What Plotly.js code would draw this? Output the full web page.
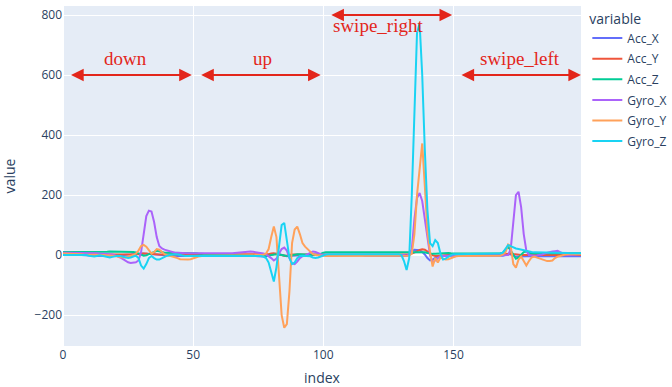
<!DOCTYPE html>
<html>
<head>
<meta charset="utf-8">
<script src="https://cdn.plot.ly/plotly-3.0.1.min.js"></script>
<style>html,body{margin:0;padding:0;background:#fff;}#chart{width:672px;height:387px;}</style>
</head>
<body>
<div id="chart"></div>
<script>
// ---- data (index 0..199) ----
const seriesNames = ["Acc_X", "Acc_Y", "Acc_Z", "Gyro_X", "Gyro_Y", "Gyro_Z"];

const accX = [
  3,3,2,2,2,1,1,0,0,-1,
  -1,-2,-2,-3,-3,-2,-2,-3,-3,-2,
  -2,-1,-1,0,0,1,2,3,4,5,
  6,5,4,3,2,1,0,0,-1,-1,
  -1,-2,-2,-2,-3,-3,-3,-2,-2,-2,
  -2,-2,-3,-3,-3,-3,-2,-2,-2,-2,
  -2,-2,-2,-1,-1,-1,-2,-2,-2,-2,
  -2,-3,-3,-3,-3,-4,-5,-5,-4,-2,
  0,3,5,3,0,-3,-4,-3,-2,-1,
  -1,0,0,0,1,1,1,0,0,0,
  0,1,1,1,1,0,0,0,-1,-1,
  -1,-1,-1,-1,-1,-1,-2,-2,-2,-2,
  -2,-2,-2,-2,-2,-2,-2,-2,-3,-3,
  -3,-4,-3,2,12,18,18,16,10,2,
  -10,-18,-15,-8,-4,-3,-2,-2,-2,-2,
  -2,-2,-3,-3,-3,-3,-3,-3,-3,-3,
  -3,-3,-3,-3,-3,-3,-3,-3,-3,-2,
  0,3,2,-2,-5,-5,-4,-4,-4,-4,
  -4,-4,-4,-4,-4,-4,-4,-4,-4,-4,
  -4,-4,-4,-4,-4,-4,-4,-4,-4,-4
];
const accY = [
  5,5,5,5,4,4,4,4,3,3,
  3,3,3,2,2,2,2,2,2,2,
  2,2,2,1,1,1,1,1,2,3,
  5,6,5,4,3,2,2,2,2,2,
  2,2,2,2,2,3,3,3,3,3,
  3,3,3,2,2,2,2,2,2,2,
  2,2,2,2,2,2,2,2,2,2,
  2,2,2,2,2,2,1,1,2,3,
  5,6,4,2,0,-2,-1,1,2,2,
  2,2,2,2,2,2,2,2,2,2,
  2,2,2,2,2,2,2,2,2,2,
  2,2,2,2,2,2,2,2,2,2,
  2,2,2,2,2,2,2,2,2,2,
  2,2,2,3,5,8,12,17,19,18,
  12,5,0,-3,-2,-1,0,0,0,0,
  0,0,0,0,0,0,0,0,0,0,
  0,0,0,0,0,0,0,0,0,1,
  3,5,6,4,2,1,0,0,0,0,
  0,0,0,0,0,0,0,0,0,0,
  0,0,0,0,0,0,0,0,0,0
];
const accZ = [
  10,10,10,10,10,10,9,9,9,9,
  9,9,9,10,10,11,11,11,12,12,
  12,12,12,12,12,11,11,10,9,6,
  2,-2,-1,3,8,12,14,13,10,8,
  8,8,8,8,8,8,8,8,8,8,
  7,6,5,4,3,2,2,1,1,1,
  0,0,0,0,0,0,0,0,0,0,
  0,0,0,0,0,-1,-2,-3,-3,-2,
  0,2,3,2,0,-2,-3,-2,0,2,
  3,3,2,1,1,1,1,1,2,4,
  8,9,9,9,9,9,9,9,9,9,
  9,9,9,9,9,9,9,9,9,9,
  9,9,9,9,9,9,9,9,9,9,
  9,9,9,8,8,8,9,10,10,9,
  7,5,4,4,5,6,7,7,7,6,
  5,5,5,5,5,5,5,5,5,5,
  5,5,5,5,5,5,5,5,6,8,
  18,28,15,0,-12,-8,2,10,12,8,
  5,5,6,6,6,6,6,6,6,6,
  6,6,6,6,6,6,6,6,6,6
];
const gyroX = [
  8,8,8,7,7,7,6,6,6,6,
  6,6,6,6,5,5,4,4,3,2,
  0,-4,-8,-14,-20,-24,-26,-26,-24,-18,
  10,70,130,148,145,110,60,30,22,18,
  15,12,10,8,8,7,7,6,6,6,
  6,6,5,5,5,5,5,5,5,5,
  4,4,4,4,5,6,7,8,9,10,
  11,12,12,11,10,9,7,5,2,-3,
  -10,-18,-12,5,20,25,15,-10,-28,-30,
  -22,-10,-4,-2,2,8,12,10,6,3,
  2,2,2,2,2,2,2,2,2,2,
  1,1,1,1,1,1,1,1,0,0,
  0,0,0,0,0,0,0,0,0,0,
  0,0,-2,2,20,120,190,207,180,120,
  50,0,-25,-18,-8,-3,-3,-2,-2,-2,
  -2,-2,-2,-2,-2,-2,-2,-2,-2,-2,
  -2,-2,-2,-2,-2,-2,-2,-2,-2,-2,
  -2,0,20,110,200,211,160,70,15,0,
  -2,-2,-1,0,2,5,8,10,12,13,
  14,10,5,2,0,0,1,2,3,4
];
const gyroY = [
  5,5,4,4,4,3,3,3,2,2,
  2,1,1,0,0,0,0,-1,-1,-2,
  -3,-5,-7,-8,-8,-6,-3,0,5,15,
  30,34,28,15,5,10,20,18,10,3,
  0,-2,-4,-6,-10,-14,-15,-15,-15,-14,
  -12,-8,-5,-3,-2,-2,-2,-2,-2,-2,
  -2,-2,-2,-3,-3,-3,-3,-3,-3,-3,
  -3,-3,-2,-1,0,0,0,1,5,20,
  60,95,60,-60,-200,-242,-230,-120,40,85,
  95,70,40,28,20,10,3,0,0,0,
  -2,-3,-3,-3,-3,-3,-3,-3,-3,-3,
  -3,-3,-3,-3,-3,-3,-3,-3,-3,-3,
  -3,-3,-3,-3,-3,-3,-3,-3,-3,-3,
  -3,-3,-3,-2,5,70,200,300,372,230,
  80,10,-38,-10,-25,-8,-12,-15,-14,-10,
  -6,-4,-3,-3,-3,-3,-3,-3,-3,-3,
  -3,-3,-3,-3,-3,-3,-3,-3,-2,2,
  10,35,30,-30,-42,-15,-5,-20,-35,-20,
  -8,-5,-8,-12,-15,-18,-20,-20,-18,-10,
  -5,-3,0,2,3,3,2,2,3,3
];
const gyroZ = [
  0,0,0,0,1,1,1,0,0,0,
  -2,-4,-5,-3,-1,-2,-4,-6,-8,-6,
  -3,-2,-3,-5,-8,-10,-8,-5,-2,-10,
  -35,-45,-30,-10,-3,-10,-15,-15,-10,-5,
  -2,0,2,3,2,0,-2,-3,-3,-3,
  -3,-3,-4,-4,-4,-4,-4,-4,-4,-4,
  -4,-4,-4,-4,-4,-4,-4,-4,-4,-4,
  -4,-4,-4,-3,-2,-2,-3,-5,-10,-25,
  -60,-88,-40,40,100,107,50,-10,-30,-25,
  -10,-3,-2,-2,-2,-4,-8,-10,-8,-4,
  0,2,3,3,3,3,3,3,3,3,
  3,3,3,3,3,3,3,3,3,3,
  3,3,3,3,3,3,3,3,3,3,
  0,-20,-50,-10,200,500,740,772,600,350,
  150,40,30,50,40,5,-15,-12,-5,0,
  3,3,3,3,3,3,3,3,3,3,
  3,3,3,3,3,3,4,4,5,8,
  20,33,30,25,22,20,18,15,12,10,
  10,9,9,8,8,8,8,8,8,8,
  7,7,7,7,7,6,6,6,6,6
];
const seriesValues = [accX, accY, accZ, gyroX, gyroY, gyroZ];
const colors = ["#636efa", "#EF553B", "#00cc96", "#ab63fa", "#FFA15A", "#19d3f3"];

// gesture segments: label, arrow start/end index, arrow level, label position
const segLabels = ["down", "up", "swipe_right", "swipe_left"];
const segStart  = [2.5, 52.5, 102.5, 152.5];
const segEnd    = [49.5, 99, 149.5, 199];
const segArrowY = [600, 600, 800, 600];
const segTextX  = [24, 76.5, 121, 175.4];
const segTextY  = [655, 655, 765, 655];

const index = accX.map((_, i) => i);

const traces = seriesNames.map((name, k) => ({
  type: "scatter", mode: "lines", name: name,
  x: index, y: seriesValues[k],
  line: {color: colors[k], width: 2},
  legendgroup: name
}));

const red = "#e3261b";
const annotations = [];
segLabels.forEach((lab, k) => {
  annotations.push({
    x: segEnd[k], y: segArrowY[k], ax: segStart[k], ay: segArrowY[k],
    xref: "x", yref: "y", axref: "x", ayref: "y",
    text: "", showarrow: true, arrowside: "end+start",
    arrowhead: 2, arrowsize: 1.15, arrowwidth: 2.2, arrowcolor: red
  });
  annotations.push({
    x: segTextX[k], y: segTextY[k],
    xref: "x", yref: "y", text: lab, showarrow: false,
    font: {family: "Liberation Serif, DejaVu Serif, serif", size: 19, color: red}
  });
});

const axisCommon = {
  gridcolor: "white", zerolinecolor: "white", zerolinewidth: 2,
  showline: false, ticks: "",
  tickfont: {family: "Open Sans, sans-serif", size: 12, color: "#2a3f5f"},
  automargin: false
};

const layout = {
  width: 672, height: 387,
  margin: {l: 63, r: 91, t: 6, b: 41},
  paper_bgcolor: "white", plot_bgcolor: "#E5ECF6",
  font: {family: "Open Sans, sans-serif", size: 12, color: "#2a3f5f"},
  xaxis: Object.assign({}, axisCommon, {
    range: [0, 199], dtick: 50, tick0: 0,
    title: {text: "index", font: {size: 14, color: "#2a3f5f"}, standoff: 15}
  }),
  yaxis: Object.assign({}, axisCommon, {
    range: [-303, 830], dtick: 200, tick0: 0,
    title: {text: "value", font: {size: 14, color: "#2a3f5f"}, standoff: 16}
  }),
  legend: {
    title: {text: "variable", font: {size: 14}},
    xref: "container", yref: "container",
    x: 0.874, y: 0.986, xanchor: "left", yanchor: "top",
    tracegroupgap: 1.6, font: {size: 12}
  },
  annotations: annotations,
  showlegend: true
};

Plotly.newPlot("chart", traces, layout, {displayModeBar: false, staticPlot: true});
</script>
</body>
</html>
